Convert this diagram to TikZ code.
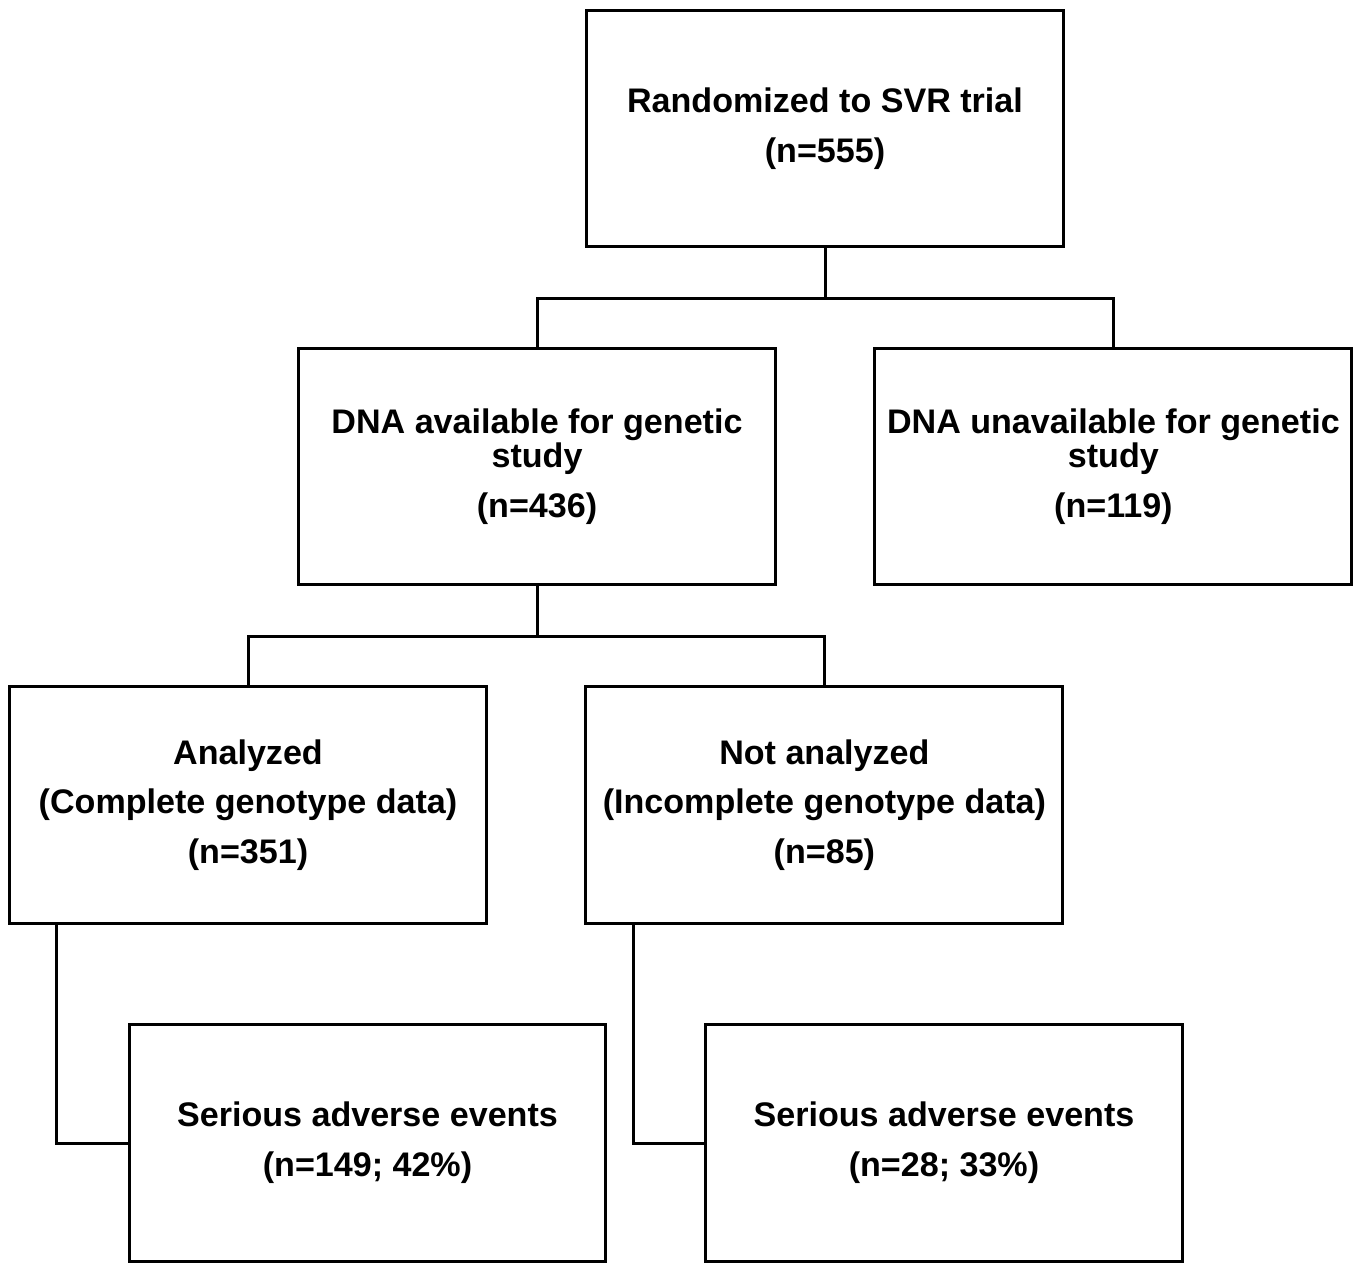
\documentclass[tikz,border=0pt]{standalone}
\usepackage{fontspec}
\usetikzlibrary{calc}
\usetikzlibrary{positioning}
\newfontfamily\chartfont{Liberation Sans}
\tikzstyle{flowbox} = [draw, rectangle, line width=0.06cm, minimum width=9.54cm, minimum height=4.74cm, inner sep=0pt, align=center, font=\chartfont\bfseries\fontsize{19.4}{19.8}\selectfont]
\tikzstyle{link} = [line width=0.06cm]

\begin{document}
\begin{tikzpicture}[x=0.02cm, y=-0.02cm]
  \useasboundingbox (0,0) rectangle (1356,1263);

  \node[flowbox] (rand) at (825,128.5) {Randomized to SVR trial\\[8.5pt](n=555)};
  \node[flowbox] (avail) at (537,466.5) {DNA available for genetic\\study\\[8.5pt](n=436)};
  \node[flowbox, right=1.93cm of avail] (unavail) {DNA unavailable for genetic\\study\\[8.5pt](n=119)};

  \node[flowbox] (anal) at (248,805) {Analyzed\\[8.5pt](Complete genotype data)\\[8.5pt](n=351)};
  \node[flowbox, right=1.93cm of anal] (notanal) {Not analyzed\\[8.5pt](Incomplete genotype data)\\[8.5pt](n=85)};

  \node[flowbox] (sae1) at (367.5,1143) {Serious adverse events\\[8.5pt](n=149; 42\%)};
  \node[flowbox] (sae2) at (944,1143) {Serious adverse events\\[8.5pt](n=28; 33\%)};

  % split after randomization
  \coordinate (split1) at ($(rand.south)+(0,-1.0cm)$);
  \draw[link] (rand.south) -- (split1);
  \draw[link] (avail.north) |- (split1) -| (unavail.north);

  % split after DNA available
  \coordinate (split2) at ($(avail.south)+(0,-1.0cm)$);
  \draw[link] (avail.south) -- (split2);
  \draw[link] (anal.north) |- (split2) -| (notanal.north);

  % adverse events
  \draw[link] ($(anal.south west)+(0.96cm,0)$) |- (sae1.west);
  \draw[link] ($(notanal.south west)+(0.98cm,0)$) |- (sae2.west);
\end{tikzpicture}
\end{document}
